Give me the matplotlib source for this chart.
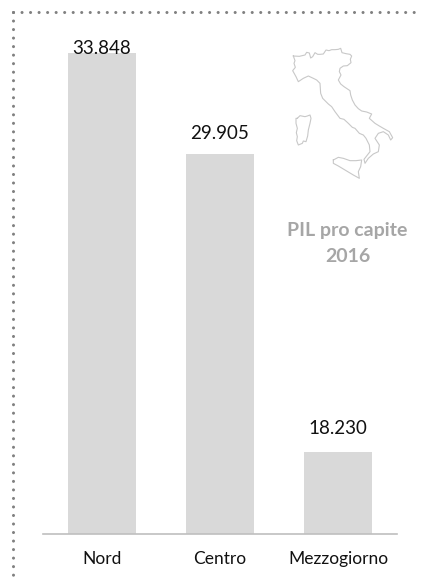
#!/usr/bin/env python3

import matplotlib
matplotlib.use("Agg")
import matplotlib.pyplot as plt
from matplotlib.lines import Line2D

W, H = 422, 585

regions = ["Nord", "Centro", "Mezzogiorno"]
values = [33848, 29905, 18230]
value_labels = ["33.848", "29.905", "18.230"]
label_gaps = [-2.6, 8.2, 11]

# outline of the map, traced by eye
mainland = [(70, 78), (88, 79), (105, 75), (110, 67), (118, 69), (122, 84), (128, 80), (135, 68),
            (143, 73), (150, 73), (160, 72), (168, 60), (177, 62), (185, 59), (195, 59), (205, 58),
            (212, 55), (216, 68), (228, 71), (240, 73), (245, 78), (241, 88), (243, 98), (232, 107),
            (220, 108), (210, 115), (208, 125), (213, 135), (205, 150), (212, 162), (222, 170),
            (240, 182), (242, 195), (247, 210), (255, 225), (265, 236), (275, 243), (290, 246),
            (305, 252), (298, 265), (315, 280), (328, 288), (340, 295), (358, 305), (368, 323),
            (362, 330), (355, 315), (340, 305), (325, 310), (315, 325), (328, 345), (325, 365),
            (310, 372), (295, 385), (285, 400), (282, 388), (300, 365), (298, 345), (288, 325),
            (280, 315), (268, 310), (255, 295), (247, 292), (235, 280), (222, 268), (210, 265),
            (195, 245), (185, 230), (175, 222), (158, 205), (152, 190), (150, 160), (140, 150),
            (130, 145), (115, 138), (100, 145), (85, 155), (78, 140), (68, 122), (76, 112),
            (72, 100), (75, 92), (70, 78)]
sardinia = [(82, 265), (90, 257), (105, 260), (112, 258), (120, 255), (123, 265), (120, 280),
            (115, 300), (113, 318), (108, 335), (100, 333), (97, 340), (85, 345), (80, 332),
            (82, 320), (79, 308), (82, 295), (78, 280), (78, 265), (82, 265)]
sicily = [(190, 390), (205, 382), (220, 385), (240, 392), (258, 392), (275, 390), (272, 410),
          (265, 425), (268, 445), (250, 435), (225, 420), (205, 408), (190, 400), (190, 390)]

plt.rcParams["font.family"] = ["Lato", "DejaVu Sans"]

fig = plt.figure(figsize=(W / 100, H / 100), dpi=100)

# bars: the value axis starts at 15000, not at zero
ax = fig.add_axes([43 / W, 1 - 533.7 / H, 354 / W, (533.7 - 53) / H])
ax.bar(range(3), values, width=0.57, color="#d9d9d9")
ax.set_xlim(-0.5, 2.5)
ax.set_ylim(15050, 33848)
ax.set_xticks(range(3), regions, fontsize=12.5, color="#111111")
ax.tick_params(axis="x", length=0, pad=12.5)
ax.set_yticks([])
for s in ["top", "left", "right"]:
    ax.spines[s].set_visible(False)
ax.spines["bottom"].set_color("#bfbfbf")
ax.spines["bottom"].set_linewidth(1.2)

for i, v in enumerate(values):
    ax.annotate(value_labels[i], (i, v), xytext=(0, label_gaps[i]), textcoords="offset points",
                ha="center", va="bottom", fontsize=13.5, color="#111111", annotation_clip=False)

# dotted frame, top and left only
dots = dict(color="#808080", lw=2.2, linestyle=(0, (0.01, 2.78)), dash_capstyle="round")
fig.add_artist(Line2D([13 / W, 1], [1 - 12 / H, 1 - 12 / H], **dots))
fig.add_artist(Line2D([13 / W, 13 / W], [1 - 12 / H, 1 - 578 / H], **dots))

# map, in the coordinates of the trace
m = fig.add_axes([270 / W, 1 - 200 / H, 150 / W, 170 / H])
m.set_xlim(0, 450)
m.set_ylim(510, 0)
m.axis("off")
for shape in [mainland, sardinia, sicily]:
    m.plot([p[0] for p in shape], [p[1] for p in shape], color="#c8c8c8", lw=0.8)

fig.text(347 / W, 1 - 231 / H, "PIL pro capite", ha="center", va="center",
         fontsize=14, fontweight="bold", color="#a6a6a6")
fig.text(348 / W, 1 - 256 / H, "2016", ha="center", va="center",
         fontsize=14, fontweight="bold", color="#a6a6a6")

fig.savefig("out.png", dpi=100)
